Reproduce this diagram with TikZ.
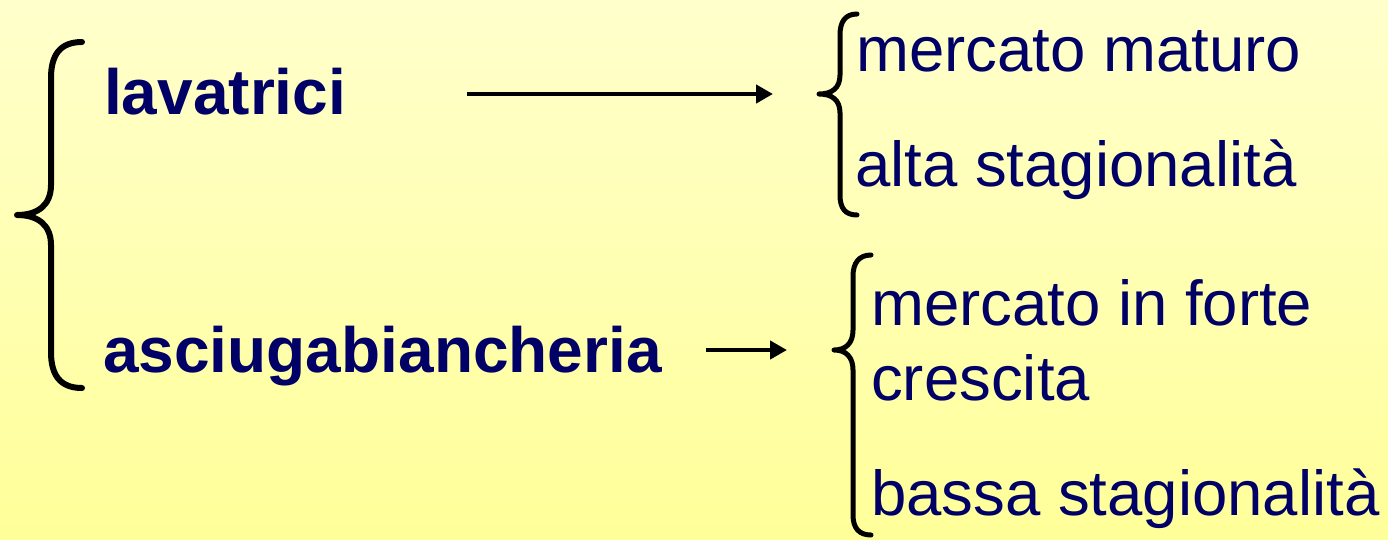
\documentclass[tikz,border=0pt]{standalone}
\usepackage{fontspec}
\setmainfont{Liberation Sans}
\usetikzlibrary{arrows.meta}
\definecolor{navy}{RGB}{0,0,102}
\definecolor{bgtop}{RGB}{255,255,204}
\definecolor{bgbot}{RGB}{255,255,153}
\tikzset{
  lbl/.style={anchor=base west, inner sep=0pt, text=navy, font=\fontsize{63.5}{70}\selectfont},
  blbl/.style={lbl, font=\fontsize{64}{70}\selectfont\bfseries},
  brace/.style={draw=black, line width=6pt, line cap=round, line join=round},
  conn/.style={draw=black, line width=4.5pt, -{Triangle[length=17pt,width=18pt]}}
}
\begin{document}
\begin{tikzpicture}[x=1pt,y=-1pt]
\useasboundingbox (0,0) rectangle (1388,539);
\shade[top color=bgtop, bottom color=bgbot] (0,0) rectangle (1388,539);
% left brace
\draw[brace] (82,42) .. controls (60,42) and (51,55) .. (51,78) -- (51,185)
  .. controls (51,205) and (38,215) .. (17,215)
  .. controls (38,215) and (51,225) .. (51,245) -- (51,352)
  .. controls (51,375) and (60,388) .. (82,388);
\node[blbl] (lav) at (104,114) {lavatrici};
\node[blbl] (asc) at (103,372) {asciugabiancheria};
% right brace 1
\draw[brace, line width=5pt] (857,14) .. controls (845,14) and (840,22) .. (840,35) -- (840,75)
  .. controls (840,88) and (832,94) .. (819,94)
  .. controls (832,94) and (840,100) .. (840,113) -- (840,195)
  .. controls (840,208) and (845,215) .. (857,215);
\node[lbl] (m1) at (856,71) {mercato maturo};
\node[lbl] (a1) at (855,186) {alta stagionalità};
% right brace 2
\draw[brace, line width=5pt] (871,255) .. controls (859,255) and (853,263) .. (853,276) -- (853,330)
  .. controls (853,343) and (846,350) .. (834,350)
  .. controls (846,350) and (853,357) .. (853,370) -- (853,515)
  .. controls (853,528) and (859,535) .. (871,535);
\node[lbl] (m2) at (871,325) {mercato in forte};
\node[lbl] (c2) at (871,400) {crescita};
\node[lbl] (b2) at (871,515) {bassa stagionalità};
% arrows
\coordinate (s1) at (467,94);
\coordinate (e1) at (773,94);
\coordinate (s2) at (706,350);
\coordinate (e2) at (787,350);
\draw[conn] (s1) -- (e1);
\draw[conn] (s2) -- (e2);
\end{tikzpicture}
\end{document}
